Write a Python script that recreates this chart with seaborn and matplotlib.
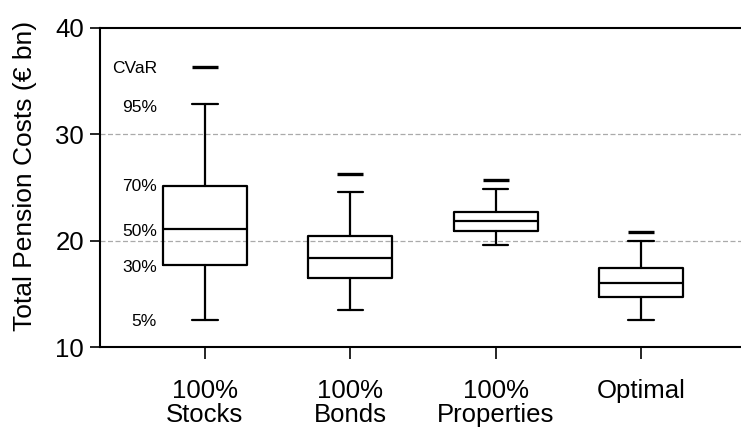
import matplotlib
matplotlib.use("Agg")
import matplotlib.pyplot as plt
import seaborn as sns
import pandas as pd

# values (EUR bn)
strategies = ["100%\nStocks", "100%\nBonds", "100%\nProperties", "Optimal"]
p5 = [12.6, 13.5, 19.6, 12.6]
p30 = [17.7, 16.5, 20.9, 14.75]
p50 = [21.1, 18.4, 21.9, 16.0]
p70 = [25.2, 20.5, 22.75, 17.45]
p95 = [32.9, 24.55, 24.9, 20.0]
cvar = [36.3, 26.3, 25.7, 20.8]

pct_labels = ["CVaR", "95%", "70%", "50%", "30%", "5%"]

sns.set_style("ticks")
plt.rcParams["font.family"] = ["Liberation Sans", "DejaVu Sans"]
plt.rcParams["text.color"] = "black"
plt.rcParams["axes.labelcolor"] = "black"
plt.rcParams["xtick.color"] = "black"
plt.rcParams["ytick.color"] = "black"

fig = plt.figure(figsize=(7.41, 4.36), dpi=100)
ax = fig.add_axes([0.135, 0.2034, 0.865, 0.7324])

stats = []
for i in range(len(strategies)):
    stats.append({"whislo": p5[i], "q1": p30[i], "med": p50[i], "q3": p70[i],
                  "whishi": p95[i], "label": strategies[i]})

line_kw = dict(color="black", linewidth=1.6)
ax.bxp(stats, positions=range(len(strategies)), widths=0.575, showfliers=False,
       boxprops=line_kw, medianprops=line_kw, whiskerprops=line_kw,
       capprops=line_kw, capwidths=0.175)

# CVaR marks
df = pd.DataFrame({"pos": range(len(strategies)), "cvar": cvar})
sns.scatterplot(data=df, x="pos", y="cvar", marker="_", s=330, color="black",
                linewidth=2.4, ax=ax, legend=False)

# percentile labels beside the first box
first = [cvar[0], p95[0], p70[0], p50[0], p30[0], p5[0]]
offs = [-0.1, -0.35, -0.1, -0.2, -0.2, -0.2]
for lab, v, o in zip(pct_labels, first, offs):
    ax.text(-0.33, v + o, lab, ha="right", va="center", fontsize=12.5)

ax.set_xlim(-0.72, 3.686)
ax.set_ylim(10, 40)
ax.set_yticks([10, 20, 30, 40])
ax.set_xticks(range(len(strategies)))
ax.set_xticklabels(strategies)
for y in [20, 30]:
    ax.axhline(y, color="#aaaaaa", linestyle=(0, (4, 2)), linewidth=0.9, zorder=0)

ax.set_ylabel("Total Pension Costs (€ bn)", fontsize=19)
ax.yaxis.set_label_coords(-0.098, 0.536)
ax.tick_params(axis="y", direction="out", length=7.5, width=1.2, pad=4, labelsize=18.5)
ax.tick_params(axis="x", direction="out", length=8.5, width=1.2, pad=14, labelsize=18.5)
for t in ax.get_xticklabels():
    t.set_linespacing(1.0)
for s in ["left", "bottom", "top"]:
    ax.spines[s].set_linewidth(1.5)
    ax.spines[s].set_color("black")
ax.spines["right"].set_visible(False)
ax.set_xlabel("")

fig.savefig("out.png", dpi=100)
